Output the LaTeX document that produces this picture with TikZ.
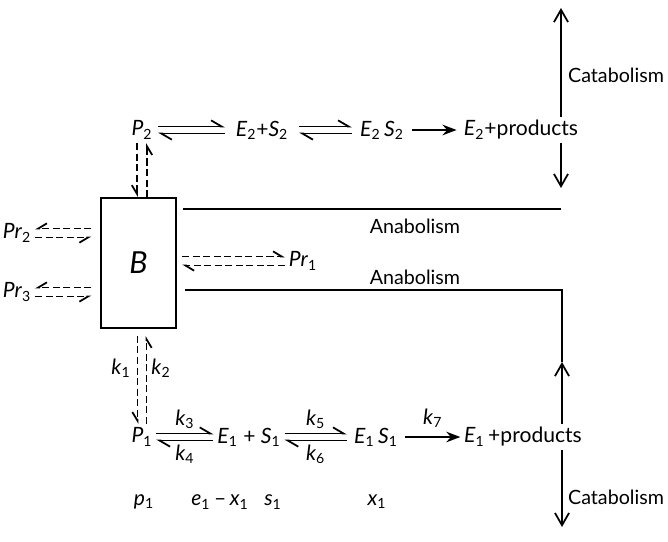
\documentclass[tikz,border=0pt]{standalone}
\usepackage{fontspec}
\setmainfont{Lato}
\usetikzlibrary{arrows.meta}

\newcommand{\chm}[2]{\textit{#1}\textsubscript{#2}}

\begin{document}
\begin{tikzpicture}[x=0.02cm, y=-0.02cm,
    sp/.style={inner sep=2pt, font=\large},
    word/.style={inner sep=1pt, font=\fontsize{11.2}{13}\selectfont},
    eq/.style={-{Straight Barb[left,length=6pt,width=7pt]}, line width=1pt},
    rx/.style={-{Stealth[length=8pt,width=6pt]}, line width=1pt},
    dsh/.style={-{Straight Barb[right,length=5pt,width=6pt]}, line width=1pt, dash pattern=on 4pt off 2pt},
    dshl/.style={dsh, -{Straight Barb[left,length=5pt,width=6pt]}},
    cat/.style={-{Straight Barb[length=7pt,width=8pt]}, line width=1pt},
    ana/.style={line width=1pt}
]
\useasboundingbox (0,0) rectangle (668,541);

\node[sp, inner xsep=3pt] (p2) at (142,130) {\chm{P}{2}};
\node[sp, inner xsep=6pt] (es2) at (262,130) {\chm{E}{2}+\chm{S}{2}};
\node[sp, inner xsep=4.5pt] (cx2) at (382,130) {\chm{E}{2}\,\chm{S}{2}};
\node[sp, inner xsep=4pt] (ep2) at (521,130) {\chm{E}{2}+products};
\node[draw, line width=1pt, minimum width=1.5cm, minimum height=2.6cm, font=\LARGE\itshape] (b) at (138.5,263) {B};
\node[sp] (pr1) at (303,261) {\chm{Pr}{1}};
\node[sp] (pr2) at (17,233) {\chm{Pr}{2}};
\node[sp] (pr3) at (17,292) {\chm{Pr}{3}};
\node[sp] (p1) at (142,437) {\chm{P}{1}};
\node[sp] (es1) at (249,437) {\chm{E}{1} + \chm{S}{1}};
\node[sp, inner xsep=4pt] (cx1) at (376,437) {\chm{E}{1}\,\chm{S}{1}};
\node[sp] (ep1) at (523,437) {\chm{E}{1}\,+products};
\node[sp] (k1) at (121,368) {\chm{k}{1}};
\node[sp] (k2) at (161,368) {\chm{k}{2}};
\node[sp] (v1) at (144,502) {\chm{p}{1}};
\node[sp] (v2) at (220,502) {\chm{e}{1}\,--\,\chm{x}{1}};
\node[sp] (v3) at (273,502) {\chm{s}{1}};
\node[sp] (v4) at (377,502) {\chm{x}{1}};
\node[word, anchor=west] (cat2) at (566,75) {Catabolism};
\node[word, anchor=west] (cat1) at (566,497) {Catabolism};
\node[word] (ana2) at (415,226) {Anabolism};
\node[word] (ana1) at (415,277) {Anabolism};

\coordinate (ctop) at (561,8);
\coordinate (cmid) at (561,188);
\coordinate (a2s) at (183,209);
\coordinate (a2e) at (561,209);
\coordinate (a1s) at (185,290);
\coordinate (a1c) at (562,290);
\coordinate (a1t) at (562,362);
\coordinate (cbot) at (562,527);

\draw[eq] ([yshift=2pt]p2.east) -- ([yshift=2pt]es2.west);
\draw[eq] ([yshift=-2pt]es2.west) -- ([yshift=-2pt]p2.east);
\draw[eq] ([yshift=2pt]es2.east) -- ([yshift=2pt]cx2.west);
\draw[eq] ([yshift=-2pt]cx2.west) -- ([yshift=-2pt]es2.east);
\draw[rx] (cx2) -- (ep2);

\draw[eq] ([yshift=2pt]p1.east) -- node[sp, above] (k3) {\chm{k}{3}} ([yshift=2pt]es1.west);
\draw[eq] ([yshift=-2pt]es1.west) -- node[sp, below] (k4) {\chm{k}{4}} ([yshift=-2pt]p1.east);
\draw[eq] ([yshift=2pt]es1.east) -- node[sp, above] (k5) {\chm{k}{5}} ([yshift=2pt]cx1.west);
\draw[eq] ([yshift=-2pt]cx1.west) -- node[sp, below] (k6) {\chm{k}{6}} ([yshift=-2pt]es1.east);
\draw[rx] (cx1) -- node[sp, above=3pt] (k7) {\chm{k}{7}} (ep1);

\draw[dsh] ([xshift=-2.8pt]p2.south) -- ([xshift=-2.8pt]p2.south |- b.north);
\draw[dsh] ([xshift=2.8pt]p2.south |- b.north) -- ([xshift=2.8pt]p2.south);
\draw[dsh, shorten <=4pt] ([xshift=-2.5pt]p1.north |- b.south) -- ([xshift=-2.5pt]p1.north);
\draw[dsh, shorten >=4pt] ([xshift=2.5pt]p1.north) -- ([xshift=2.5pt]p1.north |- b.south);

\draw[dsh, shorten <=5pt] ([yshift=2.5pt]b.west |- pr2) -- ([yshift=2.5pt]pr2.east);
\draw[dsh, shorten >=5pt] ([yshift=-2.5pt]pr2.east) -- ([yshift=-2.5pt]b.west |- pr2);
\draw[dsh, shorten <=5pt] ([yshift=2.5pt]b.west |- pr3) -- ([yshift=2.5pt]pr3.east);
\draw[dsh, shorten >=5pt] ([yshift=-2.5pt]pr3.east) -- ([yshift=-2.5pt]b.west |- pr3);
\draw[dshl, shorten <=3pt] ([yshift=2.5pt]b.east |- pr1) -- ([yshift=2.5pt]pr1.west);
\draw[dshl, shorten >=3pt] ([yshift=-2.5pt]pr1.west) -- ([yshift=-2.5pt]b.east |- pr1);

\draw[ana] (a2s) -- (a2e);
\draw[ana] (a1s) -- (a1c) -- (a1t);
\draw[cat] (ep2.north -| ctop) -- (ctop);
\draw[cat] (ep2.south -| ctop) -- (cmid);
\draw[cat] (ep1.north -| a1t) -- (a1t);
\draw[cat] (ep1.south -| cbot) -- (cbot);
\end{tikzpicture}
\end{document}
